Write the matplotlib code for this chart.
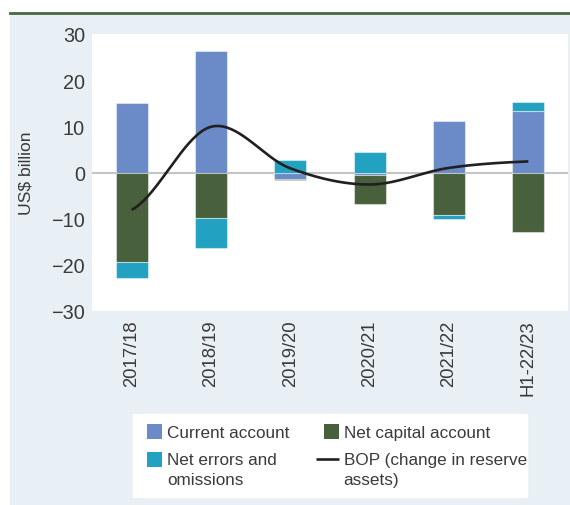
import numpy as np
import matplotlib
matplotlib.use("Agg")
import matplotlib.pyplot as plt
from matplotlib.patches import Rectangle
from matplotlib.lines import Line2D
from matplotlib.legend_handler import HandlerBase

# ---- data ----
categories = ["2017/18", "2018/19", "2019/20", "2020/21", "2021/22", "H1-22/23"]
current_account = [15.0, 26.3, -1.5, -0.6, 11.2, 13.3]
net_capital = [-19.4, -9.85, -0.2, -6.15, -9.2, -12.8]
net_errors = [-3.5, -6.55, 2.6, 4.5, -0.9, 1.9]
bop = [-8.1, 9.9, 0.9, -2.6, 1.0, 2.4]
yticks = [-30, -20, -10, 0, 10, 20, 30]

C_CA = "#6A8BC7"
C_NCA = "#48603C"
C_ERR = "#22A1C0"
C_BOP = "#231F20"
C_BG = "#E8F0F6"
C_TXT = "#3A3A3A"

plt.rcParams["font.family"] = ["Liberation Sans", "DejaVu Sans"]

W, H = 570, 506
fig = plt.figure(figsize=(W / 100, H / 100), dpi=100)
fig.patch.set_facecolor("white")

def fx(x):
    return x / W

def fy(y):
    return 1 - y / H

# background panel + top rule
fig.patches.append(Rectangle((fx(10), 0), fx(560), 1 - 15 / H,
                             transform=fig.transFigure, color=C_BG, zorder=-10))
fig.lines.append(Line2D([fx(10), 1], [fy(14), fy(14)], transform=fig.transFigure,
                        color="#4A6842", lw=2.0))

ax = fig.add_axes([fx(92), fy(312), fx(568 - 92), (312 - 35) / H])
ax.set_facecolor("white")
for s in ax.spines.values():
    s.set_visible(False)

x = np.arange(len(categories))
width = 0.4

pos_base = np.zeros(len(categories))
neg_base = np.zeros(len(categories))
for vals, col in [(current_account, C_CA), (net_capital, C_NCA), (net_errors, C_ERR)]:
    v = np.array(vals, dtype=float)
    bottoms = np.where(v >= 0, pos_base, neg_base)
    ax.bar(x, v, width, bottom=bottoms, color=col, edgecolor=(1, 1, 1, 0.45),
           linewidth=0.8, zorder=2)
    pos_base = pos_base + np.where(v >= 0, v, 0)
    neg_base = neg_base + np.where(v < 0, v, 0)

ax.axhline(0, color="#C4C4C4", lw=1.5, zorder=1)

# smoothed line (Catmull-Rom through the data points, like a spreadsheet smooth line)
yb = np.array(bop, dtype=float)
n = len(yb)
m = np.zeros(n)
m[1:-1] = (yb[2:] - yb[:-2]) / 2
m[0] = (yb[1] - yb[0]) / 2
m[-1] = (yb[-1] - yb[-2]) / 2
xs, ys = [], []
t = np.linspace(0, 1, 40)
h00 = 2 * t**3 - 3 * t**2 + 1
h10 = t**3 - 2 * t**2 + t
h01 = -2 * t**3 + 3 * t**2
h11 = t**3 - t**2
for i in range(n - 1):
    xs.append(x[i] + t)
    ys.append(h00 * yb[i] + h10 * m[i] + h01 * yb[i + 1] + h11 * m[i + 1])
ax.plot(np.concatenate(xs), np.concatenate(ys), color=C_BOP, lw=1.9,
        solid_capstyle="butt", zorder=3)

ax.set_xlim(-0.5, len(categories) - 0.5)
ax.set_ylim(-30, 30)
ax.set_yticks(yticks)
ax.set_yticklabels([("\u2212" + str(-v)) if v < 0 else str(v) for v in yticks])
ax.set_xticks(x)
ax.set_xticklabels(categories, rotation=90, va="top", ha="center")
ax.tick_params(axis="both", length=0, colors=C_TXT)
ax.tick_params(axis="y", pad=5, labelsize=14.3)
ax.tick_params(axis="x", pad=6, labelsize=13.3)
ax.set_ylabel("US$ billion", fontsize=12.6, color=C_TXT)
ax.yaxis.set_label_coords((33 - 92) / 476, 0.5)

# legend box
fig.patches.append(Rectangle((fx(133), fy(498)), fx(527 - 133), (498 - 415) / H,
                             transform=fig.transFigure, color="white", zorder=1))

class SquareHandler(HandlerBase):
    def __init__(self, shift=0.0):
        super().__init__()
        self.shift = shift

    def create_artists(self, legend, orig_handle, xdescent, ydescent, width,
                       height, fontsize, trans):
        s = 15 * 72 / 100
        r = Rectangle((-xdescent + width - s, -ydescent + (height - s) / 2 + self.shift),
                      s, s, facecolor=orig_handle.get_facecolor(), edgecolor="none",
                      transform=trans)
        return [r]

class LineHandler(HandlerBase):
    def __init__(self, shift=0.0):
        super().__init__()
        self.shift = shift

    def create_artists(self, legend, orig_handle, xdescent, ydescent, width,
                       height, fontsize, trans):
        yy = -ydescent + height / 2 + self.shift
        ln = Line2D([-xdescent, -xdescent + width], [yy, yy],
                    color=orig_handle.get_color(), lw=orig_handle.get_linewidth(),
                    solid_capstyle="butt", transform=trans)
        return [ln]

p_ca = Rectangle((0, 0), 1, 1, facecolor=C_CA)
p_nca = Rectangle((0, 0), 1, 1, facecolor=C_NCA)
p_err = Rectangle((0, 0), 1, 1, facecolor=C_ERR)
l_bop = Line2D([], [], color=C_BOP, lw=1.9)

up = 7.4
handles = [p_ca, p_err, p_nca, l_bop]
labels = ["Current account", "Net errors and\nomissions", "Net capital account",
          "BOP (change in reserve\nassets)"]
leg = fig.legend(handles, labels, ncol=2, loc="upper left",
                 bbox_to_anchor=(fx(133), fy(420)), frameon=False,
                 fontsize=12.3, handlelength=1.35, handleheight=0.7,
                 handletextpad=0.28, columnspacing=1.55, labelspacing=0.72,
                 borderpad=0.35, borderaxespad=0,
                 handler_map={p_ca: SquareHandler(), p_nca: SquareHandler(),
                              p_err: SquareHandler(up), l_bop: LineHandler(up)})
for txt in leg.get_texts():
    txt.set_color(C_TXT)
    txt.set_linespacing(1.38)
leg.set_zorder(5)

fig.savefig("out.png", dpi=100, facecolor="white")
